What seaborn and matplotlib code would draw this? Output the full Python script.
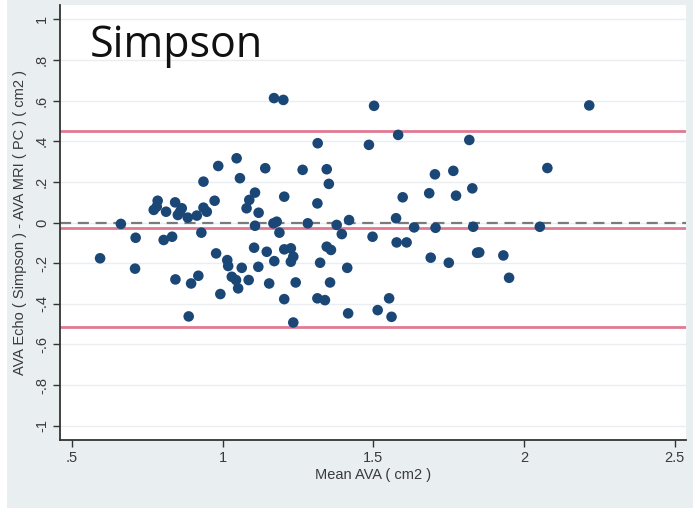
import matplotlib
matplotlib.use("Agg")
import matplotlib.pyplot as plt
import matplotlib.patches as mpatches
import seaborn as sns
import pandas as pd

mean_ava = [0.593, 0.662, 0.711, 0.709, 0.771, 0.784, 0.781, 0.812, 0.804, 0.832,
            0.842, 0.864, 0.851, 0.858, 0.884, 0.914, 0.936, 0.947, 0.936, 0.929,
            0.843, 0.895, 0.919, 0.887, 0.973, 0.985, 0.978, 0.992, 1.015, 1.018,
            1.030, 1.044, 1.051, 1.063, 1.086, 1.046, 1.057, 1.141, 1.107, 1.088,
            1.079, 1.119, 1.107, 1.104, 1.146, 1.171, 1.118, 1.154, 1.168, 1.179,
            1.170, 1.201, 1.502, 1.582, 1.818, 1.315, 1.485, 1.265, 1.345, 1.352,
            1.704, 1.765, 1.828, 1.685, 1.774, 1.597, 1.204, 1.314, 1.188, 1.282,
            1.378, 1.395, 1.419, 1.575, 1.635, 1.706, 1.831, 1.497, 1.577, 1.610,
            1.204, 1.226, 1.234, 1.226, 1.323, 1.345, 1.359, 1.413, 1.690, 1.750,
            1.844, 1.242, 1.356, 1.204, 1.314, 1.339, 1.552, 1.416, 1.514, 1.560,
            1.234, 2.216, 2.077, 2.052, 1.851, 1.931, 1.950]
diff_ava = [-0.176, -0.007, -0.075, -0.227, 0.062, 0.107, 0.078, 0.053, -0.086, -0.070,
            0.099, 0.070, 0.037, 0.052, 0.024, 0.034, 0.073, 0.053, 0.201, -0.050,
            -0.280, -0.300, -0.262, -0.462, 0.107, 0.278, -0.152, -0.352, -0.185, -0.214,
            -0.267, -0.283, -0.324, -0.223, -0.283, 0.316, 0.218, 0.267, 0.147, 0.111,
            0.070, 0.048, -0.016, -0.124, -0.144, -0.190, -0.218, -0.300, -0.004, 0.004,
            0.612, 0.603, 0.574, 0.431, 0.406, 0.390, 0.382, 0.259, 0.262, 0.190,
            0.237, 0.254, 0.168, 0.144, 0.132, 0.124, 0.127, 0.094, -0.050, -0.004,
            -0.012, -0.057, 0.012, 0.021, -0.024, -0.026, -0.021, -0.070, -0.098, -0.098,
            -0.132, -0.127, -0.168, -0.193, -0.198, -0.119, -0.135, -0.223, -0.173, -0.198,
            -0.149, -0.295, -0.295, -0.377, -0.373, -0.382, -0.373, -0.447, -0.431, -0.464,
            -0.492, 0.576, 0.268, -0.021, -0.147, -0.162, -0.272]

mean_bias = -0.029
upper_loa = 0.452
lower_loa = -0.513

x_ticks = [0.5, 1, 1.5, 2, 2.5]
x_tick_labels = [".5", "1", "1.5", "2", "2.5"]
y_ticks = [-1, -0.8, -0.6, -0.4, -0.2, 0, 0.2, 0.4, 0.6, 0.8, 1]
y_tick_labels = ["-1", "-.8", "-.6", "-.4", "-.2", "0", ".2", ".4", ".6", ".8", "1"]

df = pd.DataFrame({"mean": mean_ava, "diff": diff_ava})

sns.set_theme(style="white")
plt.rcParams["font.family"] = ["Liberation Sans", "DejaVu Sans"]

fig = plt.figure(figsize=(6.95, 5.14), dpi=100)
fig.patch.set_facecolor("white")
bg = mpatches.Rectangle((7 / 695, 1 - 508 / 514), 686 / 695, 508 / 514,
                        transform=fig.transFigure, facecolor="#e9eef1",
                        edgecolor="none", zorder=-10)
fig.patches.append(bg)
ax = fig.add_axes([60 / 695, 1 - 440 / 514, 626 / 695, 435 / 514])
ax.set_zorder(1)
ax.set_facecolor("white")

for yt in y_ticks:
    ax.axhline(yt, color="#eaeef1", lw=1.0, zorder=0)

ax.axhline(upper_loa, color="#e07a92", lw=2.0, zorder=1)
ax.axhline(mean_bias, color="#e07a92", lw=2.0, zorder=1)
ax.axhline(lower_loa, color="#e07a92", lw=2.0, zorder=1)
ax.axhline(0, color="#7a7a7a", lw=1.6, ls=(0, (5, 3)), zorder=1)

sns.scatterplot(data=df, x="mean", y="diff", ax=ax, color="#1b4777",
                s=58, edgecolor="none", zorder=3, legend=False)

ax.set_xlim(0.46, 2.537)
ax.set_ylim(-1.07, 1.07)
ax.set_xticks(x_ticks)
ax.set_xticklabels(x_tick_labels)
ax.set_yticks(y_ticks)
ax.set_yticklabels(y_tick_labels, rotation=90, va="center")

for s in ["top", "right"]:
    ax.spines[s].set_visible(False)
for s in ["left", "bottom"]:
    ax.spines[s].set_color("#333333")
    ax.spines[s].set_linewidth(1.3)

ax.tick_params(axis="both", direction="out", length=5, width=1.0, color="#333333",
               labelsize=10.5, labelcolor="#3a3a3a", left=True, bottom=True, pad=3)

ax.set_xlabel("Mean AVA ( cm2 )", fontsize=10.5, color="#3a3a3a", labelpad=2)
ax.set_ylabel("AVA Echo ( Simpson ) - AVA MRI ( PC ) ( cm2 )", fontsize=10.5,
              color="#3a3a3a", labelpad=6)

ax.text(30 / 626, (440 - 57) / 435, "Simpson", transform=ax.transAxes, fontsize=31,
        color="#111111", va="baseline", ha="left", family=["Open Sans", "DejaVu Sans"])

fig.savefig("out.png", dpi=100, facecolor=fig.get_facecolor())
